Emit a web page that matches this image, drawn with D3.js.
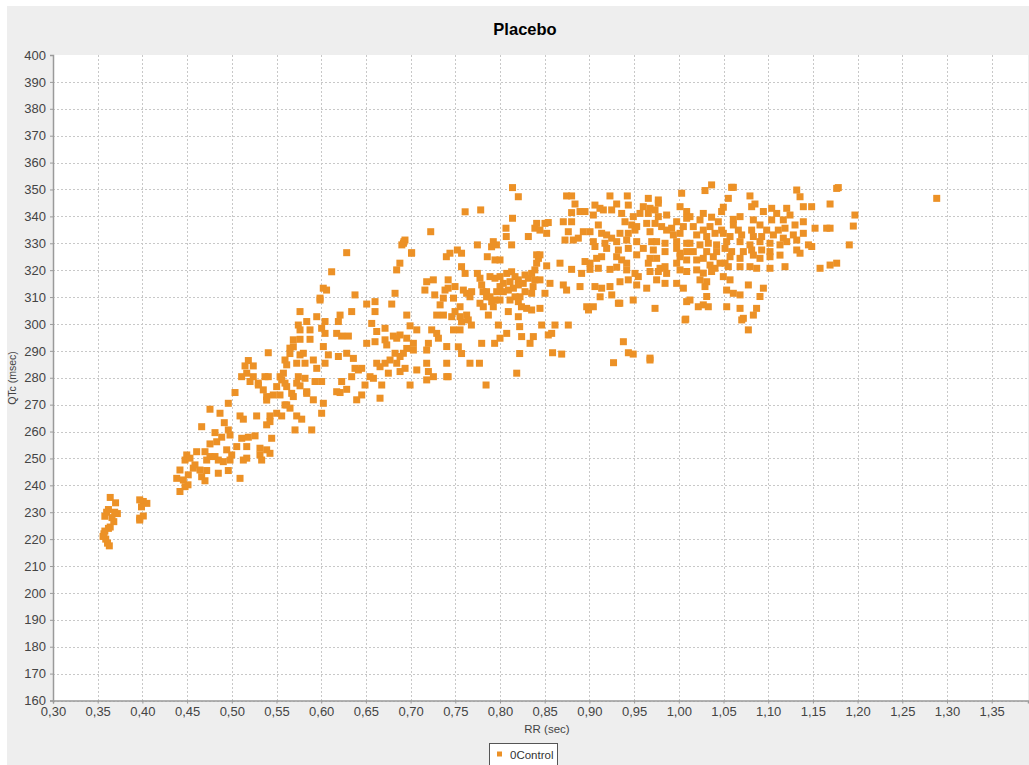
<!DOCTYPE html>
<html>
<head>
<meta charset="utf-8">
<script src="https://cdn.jsdelivr.net/npm/d3@7"></script>
<style>
  body { margin: 0; background: #fff; }
  svg { display: block; font-family: "Liberation Sans", Arial, sans-serif; }
</style>
</head>
<body>
<svg id="chart" width="1029" height="765"></svg>
<script>
// scatter data [RR (sec), QTc (msec)], grouped by region
const clusterLow = [
  [0.364,235.5],[0.370,233.5],[0.372,229.5],[0.360,230],[0.362,231],[0.358,228.5],[0.368,226.5],
  [0.364,224.5],[0.362,224],[0.357,222],[0.358,223],[0.359,220],[0.361,218.5],[0.363,217.5],
  [0.356,221],[0.366,228],[0.369,230],
  [0.397,234.6],[0.401,234],[0.405,233.3],[0.399,232],[0.397,227.8],[0.397,227.1],[0.401,228.6]
];

const rampLow = [
  [0.5204,278.6],[0.5297,277.3],[0.5036,274.5],[0.4961,270.5],[0.4756,268.3],[0.4868,266.8],[0.4916,263.3],
  [0.5092,265.8],[0.5129,264.6],[0.5278,265.8],[0.5427,265.8],[0.5502,266.8],[0.5558,265.8],[0.539,262.5],
  [0.5427,263.7],[0.5726,265.8],[0.5782,264.6],[0.5707,260.6],[0.5595,269.9],[0.5651,268.7],[0.4663,261.8],
  [0.4812,259.6],[0.4887,257.9],[0.4961,260.6],[0.498,258.7],[0.5111,257.5],[0.5185,257.9],[0.526,258.4],
  [0.5446,257.5],[0.4756,255.4],[0.4831,256.2],[0.4607,252.5],[0.4496,251.3],[0.4477,249.4],[0.4532,250.1],
  [0.47,252.5],[0.4756,250.7],[0.4812,250.7],[0.4943,253.2],[0.4999,251.3],[0.5055,254.4],[0.5167,254.4],
  [0.5315,253.8],[0.5315,251.3],[0.539,253.2],[0.5427,251.9],[0.5334,249.4],[0.5167,250.1],[0.5129,249.4],
  [0.498,249.4],[0.4905,248.8],[0.4849,249.4],[0.4719,249.4],[0.4588,247.6],[0.4569,246.4],[0.442,245.7],
  [0.4644,245.7],[0.4719,245.5],[0.4849,244.5],[0.4961,245.5],[0.4384,242.6],[0.4458,242],[0.4513,243.9],
  [0.4663,243.2],[0.47,241.7],[0.5092,242.6],[0.4477,239.5],[0.442,237.7],[0.451,240.2],
  [0.5352,275.5],[0.539,273],[0.5464,273.6],[0.5539,273.6],[0.5614,276.7],[0.567,274.2],[0.5838,274.2],
  [0.539,271.7],[0.5894,260.6]
];

const rampMid = [
  [0.511,280.4],[0.5167,281.7],[0.524,280.4],[0.5296,278],[0.5371,280.4],[0.5408,280.4],[0.5502,276.7],
  [0.554,280.4],[0.5558,279.2],[0.5577,281.7],[0.5595,278],[0.5614,269.9],[0.5688,273],[0.5726,278],
  [0.5744,280.4],[0.5148,284.4],[0.5185,286.4],[0.524,284.4],[0.5408,289.3],[0.5595,286.6],[0.5614,284.8],
  [0.565,289],[0.5688,291.5],[0.5726,285.4]
];

const rampCore = [
  [0.5987,308.9],[0.6509,307.4],[0.6602,308.3],[0.6789,307.4],[0.5763,304.6],[0.595,302.7],[0.5838,300.9],
  [0.6043,300.9],[0.6211,303.3],[0.6341,304.6],[0.6602,304.6],[0.6957,303.3],[0.733,307.1],[0.7367,303.3],
  [0.7292,303.3],[0.5763,297.8],[0.5875,297.8],[0.6005,298.4],[0.6043,296.5],[0.6192,300.9],[0.6173,296.5],
  [0.6229,295.5],[0.6304,295.5],[0.6565,300.2],[0.6621,297.2],[0.6714,298.4],[0.6882,295.9],[0.6807,295.5],
  [0.6994,299.3],[0.7069,297.8],[0.7236,297.8],[0.7292,296.5],[0.7311,294.7],[0.5763,294.3],[0.5875,294.3],
  [0.6024,291.6],[0.608,288.5],[0.6509,292.8],[0.6602,293.4],[0.6714,294.1],[0.6733,292.2],[0.6845,294.7],
  [0.6957,294.7],[0.7031,292.8],[0.7031,290.3],[0.6957,290.9],[0.6919,289.1],[0.6882,287.9],[0.6826,289.1],
  [0.677,286.6],[0.6714,285.4],[0.6658,284.1],[0.6621,285.4],[0.6845,285.4],[0.6882,282.3],[0.6751,281.7],
  [0.6938,283.5],[0.7069,282.9],[0.718,285.4],[0.7199,282.3],[0.718,279.2],[0.7255,280.4],[0.7404,280.4],
  [0.7199,292.8],[0.718,290.3],[0.7404,291.6],[0.7404,285.4],[0.5763,288.5],[0.5819,285.4],[0.5912,286.6],
  [0.595,283.5],[0.6043,285.4],[0.6192,287.9],[0.6285,289.1],[0.636,287.2],[0.6378,283.5],[0.6416,282.9],
  [0.6341,280.4],[0.6453,283.5],[0.6546,280.4],[0.649,277.3],[0.6584,279.8],[0.6677,277.3],[0.5819,279.8],
  [0.5931,278.6],[0.6005,278.6],[0.6229,278.6],[0.6285,275.7],[0.6173,274.8],[0.6211,274.5],[0.5763,277],
  [0.5838,274.8],[0.5912,271.8],[0.6024,270.5],[0.6453,273.6],[0.6397,271.8],[0.6658,272.4],[0.6994,277.3],
  [0.6005,266.8],[0.58,289.1]
];

const rampUpper = [
  [0.6117,319.4],[0.6285,326.5],[0.6023,313.3],[0.606,312.6],[0.5987,309.6],[0.6378,310.8],[0.6826,311.4],
  [0.6844,320.1],[0.688,322.6],[0.692,330],[0.6937,331.2],[0.701,326.3],[0.5744,299.6],[0.5688,294.1],
  [0.565,291],[0.718,315.7],[0.7254,316.4],[0.727,310.8],[0.7385,312.6],[0.74,325],[0.742,316.4],
  [0.7366,309.6],[0.742,280.4]
];

const bandSeventies = [
  [0.814,350.7],[0.8205,347.3],[0.761,341.7],[0.7784,342.4],[0.7225,334.3],[0.814,339.3],[0.8067,335.6],
  [0.807,332.5],[0.6926,330.6],[0.6902,329.4],[0.7012,326.5],[0.744,326.3],[0.7523,327.5],[0.757,326.3],
  [0.7747,329.4],[0.7906,328.7],[0.796,329.4],[0.7925,330.6],[0.813,329.4],[0.7858,325],[0.7944,323.8],
  [0.8,323.8],[0.757,321.3],[0.761,318.8],[0.7747,318.8],[0.7776,317],[0.7795,314.5],[0.781,312],
  [0.716,312.6],[0.742,313.3],[0.7497,313.9],[0.748,309.6],[0.759,312.6],[0.7627,311.4],[0.7664,310.1],
  [0.7683,312],[0.746,302.7],[0.7497,304.6],[0.7553,306.4],[0.7553,302.7],[0.757,300.8],
  [0.7627,303.3],[0.7645,301.5],[0.768,299.6],[0.748,297.8],[0.7553,297.8],
  [0.7534,291.5],[0.757,289],[0.7664,285.4],[0.777,285.4],[0.7844,277.3],[0.8187,281.7],
  [0.7795,292.8],[0.794,292.8],[0.8,294.7],[0.8075,296.5],[0.7982,299.6],[0.787,303.3],
  [0.7907,308.3],[0.785,310.1],[0.8093,304.6],[0.8205,302.7],[0.822,299],[0.8242,295.3],[0.8336,292.8],
  [0.8373,295.3],[0.822,289],[0.8466,299.6],[0.854,295.9],[0.8578,296.5],[0.8615,299.6],[0.8764,299.6],
  [0.8588,289.3],[0.869,288.8]
];

const coreMid = [
  [0.7888,317.6],[0.7944,317],[0.8,317.6],[0.8075,318.8],[0.813,319.4],[0.8168,317.6],[0.8205,316.4],
  [0.8112,315.7],[0.8037,315.1],[0.8,313.9],[0.7963,312],[0.8037,312],[0.8093,312.6],[0.815,313.3],
  [0.8205,314.5],[0.826,315.1],[0.828,318.2],[0.8317,317],[0.8354,318.8],[0.839,320.1],[0.841,322.6],
  [0.843,324.4],[0.839,316.4],[0.837,313.9],[0.8354,311.4],[0.828,312],[0.8224,310.1],
  [0.8168,310.1],[0.8112,308.9],[0.8205,308.3],[0.824,306.4],[0.8298,305.8],[0.8354,305.2],[0.8447,305.8],
  [0.7944,308.9],[0.8,308.9],[0.7925,306.4],[0.7888,310.1],[0.785,312],
  [0.7813,306.4],[0.7776,307.7],[0.841,337.4],[0.839,335.6],[0.8317,332.5],[0.841,325.7]
];

const plateauLeft = [
  [0.8745,347.6],[0.8801,347.6],[0.923,347.6],[0.9424,347.6],[0.9659,346.7],[0.9771,346.1],[0.9771,344.9],
  [1.0032,348.6],[0.8839,344.6],[0.9062,344.2],[0.9118,343],[0.9305,344.6],[0.9435,344.2],[0.9603,343.6],
  [0.9678,343],[0.9734,342.4],[1.0014,343.6],[1.0088,341.8],[0.8801,341.4],[0.8895,341.8],[0.8951,341.8],
  [0.9044,340.5],[0.9156,342.4],[0.9249,342.4],[0.9361,341.1],[0.9398,338],[0.9491,339.9],[0.9566,341.1],
  [0.9659,341.1],[0.9771,339.9],[0.9864,340.5],[0.9976,338],[1.0088,339.3],[0.8503,337.4],[0.854,337.7],
  [0.8708,338],[0.8801,338],[0.91,336.8],[0.9473,336.8],[0.9529,336.2],[0.9641,337.4],[0.9734,337.4],
  [0.9808,336.2],[0.992,335.6],[1.0051,336.2],[0.8447,334.9],[0.8522,333.7],[0.8764,334.3],[0.8932,334.3],
  [0.9007,334.3],[0.9137,333.7],[0.9193,333.1],[0.9249,331.9],[0.9342,333.7],[0.9435,333.7],[0.951,334.9],
  [0.9678,334.3],[0.9864,334.9],[0.9939,333.1],[1.0014,333.7],[0.8727,331.2],[0.882,331.2],[0.8876,331.9],
  [0.9044,330.6],[0.9174,330],[0.9305,330.6],[0.9417,331.2],[0.9529,330.6],[0.9697,330.6],[0.9752,330.6],
  [0.9846,330],[0.9976,330.6],[1.0088,330],[0.9062,328.8],[0.9193,328.1],[0.9324,327.5],[0.9435,328.1],
  [0.9603,328.1],[0.9715,327.5],[0.9846,326.9],[0.9976,328.1],[1.0014,326.3],[1.0088,326.9],[0.8447,325.7],
  [0.8671,322.6],[0.8951,323.2],[0.9007,322.6],[0.9081,324.4],[0.9137,325],[0.9305,325],[0.9361,323.8],
  [0.9417,322.6],[0.9529,325.7],[0.9678,324.4],[0.9752,324.4],[0.9659,322.6],[0.979,320.7],[0.9846,321.3],
  [0.9976,322.6],[1.0014,325],[1.0088,323.8],[0.8522,321.6],[0.8801,320.3],[0.8913,318.8],[0.9007,320.3],
  [0.91,320.7],[0.923,320.3],[0.9305,321.1],[0.9417,320.1],[0.951,318.8],[0.9547,317.6],[0.9678,319.5],
  [0.9771,319.5],[0.9864,318.8],[1.0014,320.1],[1.0088,319.5],[0.8447,316.4],[0.8559,315.1],[0.8708,314.5],
  [0.8745,312.6],[0.8895,313.9],[0.9062,313.9],[0.9137,313.3],[0.923,313.9],[0.9342,315.7],[0.9435,316.4],
  [0.9529,314.5],[0.9641,313.3],[0.9752,316.4],[0.9846,315.1],[0.9976,315.1],[1.0051,313.3],[0.8503,311.4],
  [1.0218,306.4],[1.007,301.5],[1.0088,308.3],[0.897,306.4],[0.9044,306.4],[0.899,305.2],[0.938,293.4],
  [0.9436,289.3],[0.949,288.8],[0.927,285.6],[0.9678,286.6],[0.934,307.7],[0.949,308.9],[0.9734,305.8],
  [0.9324,307.7],[0.912,310.1],[0.925,310.8]
];

const plateauRight = [
  [1.0367,351.7],[1.0293,349.6],[1.0591,350.8],[1.061,350.8],[1.0554,346.7],[1.0796,347.6],[1.0815,343.6],
  [1.0852,344.6],[1.0498,343.4],[1.0479,341.8],[1.0274,341.1],[1.0125,339.9],[1.0237,338.7],[1.0367,339.7],
  [1.0442,338],[1.061,338.9],[1.0685,339.9],[1.0834,338.7],[1.0946,341.8],[1.1039,343],[1.1095,341.1],
  [1.1169,338.7],[1.1207,343],[1.1244,340.5],[1.1356,347.3],[1.1319,349.8],[1.1393,343.6],[1.1486,343.6],
  [1.1692,344.6],[1.1766,350.4],[1.0162,336.2],[1.0274,334.9],[1.0349,336.2],[1.0479,334.9],[1.061,336.8],
  [1.0666,334.9],[1.0815,334.9],[1.0908,336.8],[1.0983,334.9],[1.1039,338.7],[1.1113,334.9],[1.1188,335.6],
  [1.13,336.8],[1.1393,338],[1.1524,335.6],[1.1654,335.6],[1.1692,335.6],[1.02,333.1],[1.0312,332.5],
  [1.0405,333.7],[1.0498,333.7],[1.0573,332.5],[1.0703,333.1],[1.0834,332.5],[1.0927,332.5],[1.1058,333.1],
  [1.1169,331.9],[1.1281,333.1],[1.1393,333.7],[1.0125,330],[1.0237,329.4],[1.033,330],[1.0423,329.4],
  [1.0535,330.6],[1.0685,330.6],[1.0796,329.4],[1.0908,330.6],[1.102,330],[1.1132,329.4],[1.1207,330.6],
  [1.1319,331.2],[1.145,329.4],[1.1487,328.8],[1.0162,326.9],[1.0312,326.9],[1.0423,326.9],[1.0517,328.1],
  [1.0591,326.9],[1.0722,326.9],[1.0815,327.5],[1.0927,327.5],[1.102,326.9],[1.1319,327.5],[1.1356,326.3],
  [1.02,323.8],[1.0274,324.4],[1.0386,325],[1.0573,325],[1.0685,324.4],[1.0834,325.6],[1.0908,324.4],
  [1.102,325],[1.1132,325.6],[1.0349,321.9],[1.0405,320.7],[1.0461,322.6],[1.0517,322.6],[1.0554,321.3],
  [1.0685,321.3],[1.0796,321.3],[1.0871,320.7],[1.102,320.7],[1.1188,321.3],[1.158,320.7],[1.1692,321.9],
  [1.1766,322.6],[1.02,320.1],[1.0274,318.9],[1.0367,319.5],[1.0498,317.6],[1.0237,316.4],[1.0312,315.7],
  [1.0293,313.9],[1.0573,316.4],[1.0778,314.5],[1.0946,313.3],[1.0535,312.6],[1.0685,310.8],[1.061,311.4],
  [1.0908,310.2],[1.0312,310.2],
  [1.1784,350.7],[1.2885,346.7],[1.197,340.5],[1.1952,336.4],[1.1907,329.4],[1.0125,308.9],[1.0274,307.1],
  [1.033,306.4],[1.0834,303.3],[1.0722,302.1],[1.0704,301.5],[1.0778,297.8],[1.0685,305.8],[1.0536,306.4],
  [1.0078,301.8],[1.087,305.8],[0.9678,287.3]
];

const points = [].concat(clusterLow, rampLow, rampMid, rampCore, rampUpper, bandSeventies, coreMid, plateauLeft, plateauRight);

const xTicks = d3.range(0, 22).map(i => +(0.30 + i * 0.05).toFixed(2));
const yTicks = d3.range(160, 401, 10);
const title = "Placebo";
const seriesName = "0Control";

const W = 1029, H = 765;
const plot = { left: 53, top: 55, right: 1028, bottom: 700.5 };
const dotColor = "#ec9126";
const dotSize = 7;

const svg = d3.select("#chart");

svg.append("rect").attr("width", W).attr("height", H).attr("fill", "#fff");
svg.append("rect").attr("x", 7).attr("y", 6).attr("width", W - 7).attr("height", H - 6).attr("fill", "#eeeeee");

const x = d3.scaleLinear().domain([0.30, 0.30 + (plot.right - plot.left) / 894]).range([plot.left, plot.right]);
const y = d3.scaleLinear().domain([160, 400]).range([plot.bottom, plot.top]);

svg.append("rect")
  .attr("x", plot.left).attr("y", plot.top)
  .attr("width", plot.right - plot.left).attr("height", plot.bottom - plot.top)
  .attr("fill", "#fff");

// grid
const grid = svg.append("g").attr("stroke", "#c8c8c8").attr("stroke-dasharray", "2,2").attr("stroke-width", 1);
grid.selectAll("line.v").data(xTicks.slice(1)).join("line")
  .attr("x1", d => Math.round(x(d)) + 0.5).attr("x2", d => Math.round(x(d)) + 0.5)
  .attr("y1", plot.top).attr("y2", plot.bottom);
grid.selectAll("line.h").data(yTicks.slice(0, -1)).join("line")
  .attr("y1", d => Math.round(y(d)) + 0.5).attr("y2", d => Math.round(y(d)) + 0.5)
  .attr("x1", plot.left).attr("x2", plot.right);

// points
svg.append("g").attr("fill", dotColor)
  .selectAll("rect").data(points).join("rect")
  .attr("x", d => x(d[0]) - dotSize / 2).attr("y", d => y(d[1]) - dotSize / 2)
  .attr("width", dotSize).attr("height", dotSize);

// axes
const fmt = d => d3.format(".2f")(d).replace(".", ",");
const xAxis = svg.append("g").attr("transform", `translate(0,${plot.bottom})`)
  .call(d3.axisBottom(x).tickValues(xTicks).tickFormat(fmt).tickSize(3).tickPadding(3));
const yAxis = svg.append("g").attr("transform", `translate(${plot.left},0)`)
  .call(d3.axisLeft(y).tickValues(yTicks).tickSize(3).tickPadding(4));

[xAxis, yAxis].forEach(g => {
  g.select(".domain").attr("stroke", "#9a9a9a").attr("stroke-width", 1.5);
  g.selectAll(".tick line").attr("stroke", "#9a9a9a");
  g.selectAll(".tick text").attr("fill", "#444").attr("font-size", 13)
    .attr("font-family", "'Liberation Sans', Arial, sans-serif");
});

// title and axis labels
svg.append("text").attr("x", 525).attr("y", 35).attr("text-anchor", "middle")
  .attr("font-size", 16.5).attr("font-weight", "bold").attr("fill", "#000").text(title);
svg.append("text").attr("x", 547).attr("y", 733).attr("text-anchor", "middle")
  .attr("font-size", 11.5).attr("fill", "#444").text("RR (sec)");
svg.append("text").attr("transform", "translate(16,378) rotate(-90)").attr("text-anchor", "middle")
  .attr("font-size", 10.5).attr("fill", "#444").text("QTc (msec)");

// legend
const lg = svg.append("g");
lg.append("rect").attr("x", 489.5).attr("y", 743.5).attr("width", 68).attr("height", 30)
  .attr("fill", "#fff").attr("stroke", "#555");
lg.append("rect").attr("x", 497).attr("y", 751.5).attr("width", 5).attr("height", 5).attr("fill", dotColor);
lg.append("text").attr("x", 510).attr("y", 758.5).attr("font-size", 11.5).attr("fill", "#333").text(seriesName);
</script>
</body>
</html>
